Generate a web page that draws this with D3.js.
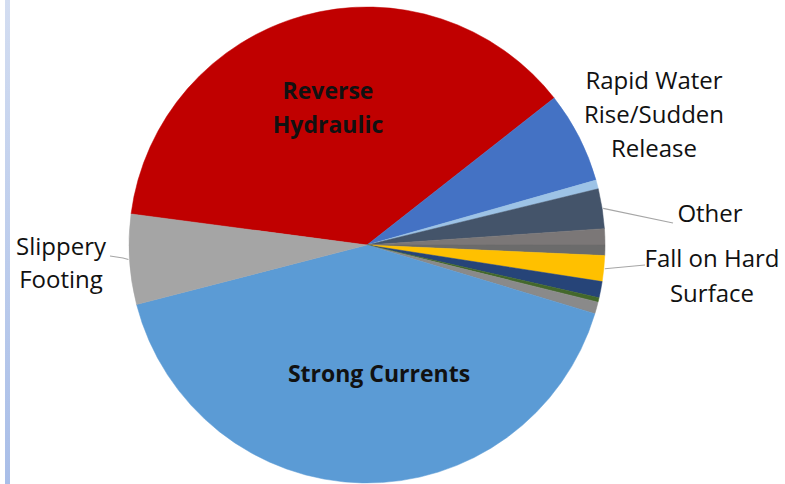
<!DOCTYPE html>
<html>
<head>
<meta charset="utf-8">
<script src="https://cdn.jsdelivr.net/npm/d3@7"></script>
<style>
  html, body { margin: 0; padding: 0; background: #fff; }
  svg { display: block; }
  text { font-family: "Open Sans", "Noto Sans", sans-serif; fill: #111; }
</style>
</head>
<body>
<svg id="chart" width="785" height="484"></svg>
<script>
// Slices in drawing order (clockwise from the Reverse Hydraulic slice)
const categories = [
  "Reverse Hydraulic", "Rapid Water Rise/Sudden Release", "", "Other", "", "",
  "Fall on Hard Surface", "", "", "", "Strong Currents", "Slippery Footing"
];
const values = [37.3, 6.2, 0.6, 2.7, 1.1, 0.7, 1.75, 1.1, 0.3, 0.8, 41.3, 6.1];
const colors = [
  "#c00000", "#4472c4", "#9dc3e6", "#44546a", "#7b7777", "#6b6b6b",
  "#ffc000", "#264478", "#43682b", "#8a8a8a", "#5b9bd5", "#a5a5a5"
];

const W = 785, H = 484;
const cx = 367, cy = 245, R = 238;
const startDeg = 277.5;

const svg = d3.select("#chart");

// light blue side rule
const defs = svg.append("defs");
const grad = defs.append("linearGradient").attr("id", "rule")
  .attr("x1", 0).attr("y1", 0).attr("x2", 0).attr("y2", 1);
grad.append("stop").attr("offset", "0%").attr("stop-color", "#d3ddf1");
grad.append("stop").attr("offset", "100%").attr("stop-color", "#a9bee8");
svg.append("rect").attr("x", 5).attr("y", 0).attr("width", 5).attr("height", H)
  .attr("fill", "url(#rule)");

const data = categories.map((c, i) => ({ name: c, value: values[i], color: colors[i] }));

const pie = d3.pie().sort(null).value(d => d.value)
  .startAngle(startDeg * Math.PI / 180)
  .endAngle(startDeg * Math.PI / 180 + 2 * Math.PI);
const arcs = pie(data);
const arc = d3.arc().innerRadius(0).outerRadius(R);

const g = svg.append("g").attr("transform", `translate(${cx},${cy})`);
g.selectAll("path.slice").data(arcs).enter().append("path")
  .attr("class", "slice")
  .attr("d", arc)
  .attr("fill", d => d.data.color)
  .attr("stroke", d => d.data.color)
  .attr("stroke-width", 0.5);

// point on the rim at the middle of a slice
function rimPoint(a, r) {
  const m = (a.startAngle + a.endAngle) / 2;
  return [cx + r * Math.sin(m), cy - r * Math.cos(m)];
}
const byName = n => arcs.find(a => a.data.name === n);

function multiline(x, ys, lines, opts) {
  const t = svg.append("text")
    .attr("text-anchor", "middle")
    .attr("font-size", opts.size)
    .attr("font-weight", opts.weight || "normal");
  lines.forEach((l, i) => t.append("tspan").attr("x", x).attr("y", ys[i]).text(l));
  return t;
}
// inside labels
multiline(328, [99, 133], ["Reverse", "Hydraulic"], { size: 23, weight: "bold" });
multiline(379, [382], ["Strong Currents"], { size: 23, weight: "bold" });

// outside labels
multiline(654, [89, 123, 157], ["Rapid Water", "Rise/Sudden", "Release"], { size: 24 });
multiline(710, [222], ["Other"], { size: 24 });
multiline(712, [267, 302], ["Fall on Hard", "Surface"], { size: 24 });
multiline(61, [255, 288], ["Slippery", "Footing"], { size: 24 });

// leader lines
const leader = d3.line();
const lead = (pts) => svg.append("path").attr("d", leader(pts))
  .attr("fill", "none").attr("stroke", "#a6a6a6").attr("stroke-width", 1.2);

const pOther = rimPoint(byName("Other"), R + 1);
lead([pOther, [673, 223]]);
const pFall = rimPoint(byName("Fall on Hard Surface"), R + 1);
lead([pFall, [645, 265]]);
const pSlip = rimPoint(byName("Slippery Footing"), R + 1);
lead([pSlip, [123, 258], [110, 256]]);
</script>
</body>
</html>
